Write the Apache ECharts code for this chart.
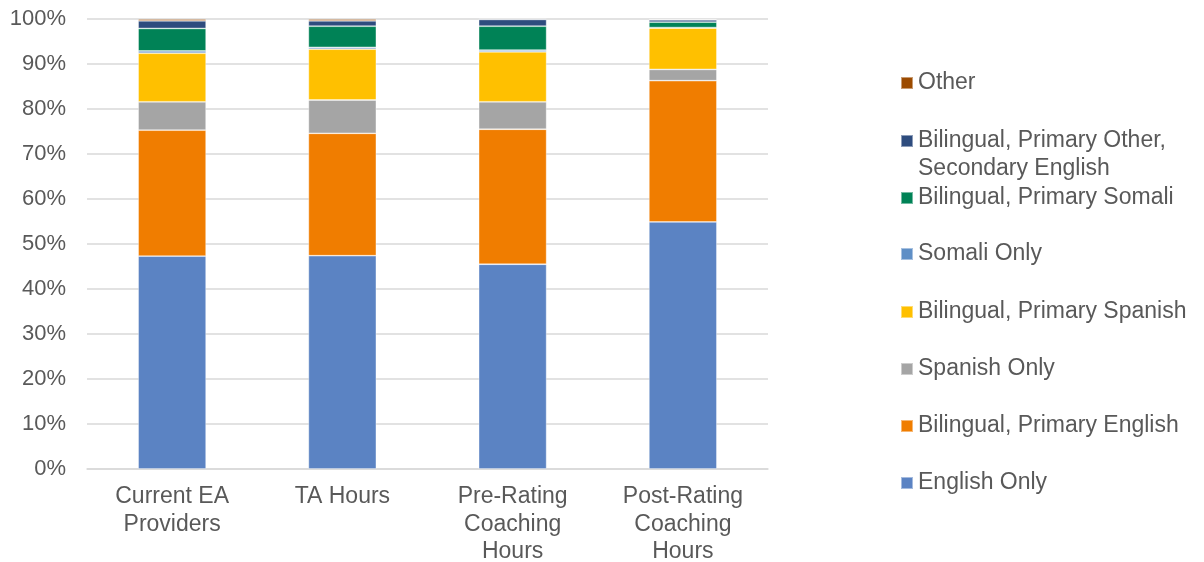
<!DOCTYPE html>
<html>
<head>
<meta charset="utf-8">
<script src="https://cdn.jsdelivr.net/npm/echarts@6/dist/echarts.min.js"></script>
<style>
html, body { margin: 0; padding: 0; background: #fff; }
#main { width: 1204px; height: 562px; }
</style>
</head>
<body>
<div id="main"></div>
<script>
var categories = ['Current EA\nProviders', 'TA Hours', 'Pre-Rating\nCoaching\nHours', 'Post-Rating\nCoaching\nHours'];
var seriesNames = ['English Only', 'Bilingual, Primary English', 'Spanish Only', 'Bilingual, Primary Spanish',
  'Somali Only', 'Bilingual, Primary Somali', 'Bilingual, Primary Other, Secondary English', 'Other'];
var englishOnly = [47.3, 47.4, 45.5, 54.9];
var bilEnglish = [28.0, 27.2, 30.0, 31.4];
var spanishOnly = [6.3, 7.4, 6.1, 2.5];
var bilSpanish = [10.8, 11.3, 11.1, 9.2];
var somaliOnly = [0.5, 0.4, 0.4, 0.1];
var bilSomali = [5.0, 4.7, 5.3, 1.2];
var bilOther = [1.7, 1.2, 1.5, 0.5];
var other = [0.4, 0.4, 0.1, 0.2];

var values = [englishOnly, bilEnglish, spanishOnly, bilSpanish, somaliOnly, bilSomali, bilOther, other];
var colors = ['#5b83c3', '#f07d00', '#a5a5a5', '#ffc000', '#5f8fc6', '#008256', '#2e4c7e', '#9c4b00'];
// legend icon centre y, top to bottom (Other first)
var legendY = [482, 425, 368, 311, 253, 197, 140, 82];

var font = '"Liberation Sans", Arial, sans-serif';
var chart = echarts.init(document.getElementById('main'));

var series = [];
var legends = [];
for (let i = 0; i < seriesNames.length; i++) {
  series.push({
    name: seriesNames[i],
    type: 'bar',
    stack: 'total',
    barWidth: 68,
    data: values[i],
    itemStyle: { color: colors[i], borderColor: 'rgba(255,255,255,0.45)', borderWidth: 0.8 }
  });
  var twoLine = i === 6;
  // the wrapped item: blank first line so the icon sits beside the first text line
  legends.push({
    data: [seriesNames[i]],
    left: 900,
    top: twoLine ? legendY[i] - 41 : legendY[i] - 13,
    padding: 0,
    itemWidth: 12,
    itemHeight: 12,
    itemGap: 0,
    selectedMode: false,
    icon: 'rect',
    formatter: twoLine ? ' \nBilingual, Primary Other,\nSecondary English' : '{name}',
    textStyle: { fontFamily: font, fontSize: 23, color: '#595959', lineHeight: 28 }
  });
}

var option = {
  animation: false,
  grid: { left: 87, right: 436, top: 19, bottom: 93, outerBoundsMode: 'none', containLabel: false },
  legend: legends,
  xAxis: {
    type: 'category',
    data: categories,
    axisLine: { lineStyle: { color: '#d9d9d9', width: 1.5 } },
    axisTick: { show: false },
    axisLabel: { fontFamily: font, fontSize: 23, color: '#595959', lineHeight: 27.5, margin: 14, interval: 0 }
  },
  yAxis: {
    type: 'value',
    min: 0,
    max: 100,
    interval: 10,
    axisLine: { show: false },
    axisTick: { show: false },
    splitLine: { lineStyle: { color: '#d9d9d9', width: 1.5 } },
    axisLabel: { fontFamily: font, fontSize: 22, color: '#595959', margin: 21, formatter: '{value}%' }
  },
  series: series
};
chart.setOption(option);
</script>
</body>
</html>
